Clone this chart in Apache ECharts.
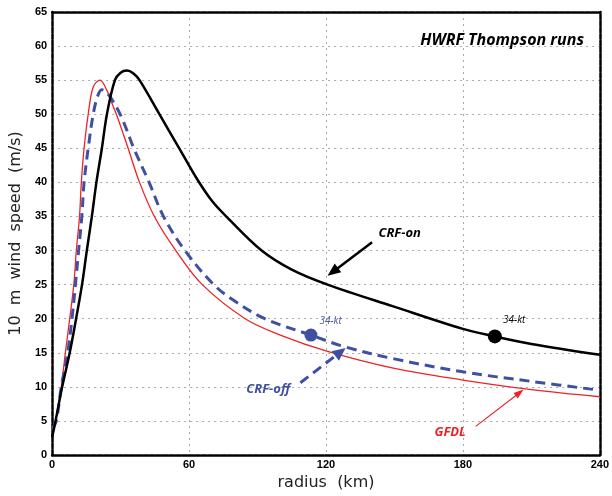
<!DOCTYPE html>
<html>
<head>
<meta charset="utf-8">
<script src="https://cdn.jsdelivr.net/npm/echarts@6/dist/echarts.min.js"></script>
<style>html,body{margin:0;padding:0;background:#fff}#c{width:612px;height:496px}</style>
</head>
<body>
<div id="c"></div>
<script>
// ---- data ----
const xTicks = [0, 60, 120, 180, 240];
const crfOnR = [0,1.5,4.4,7.7,10.5,13.1,15.2,17.4,19.4,21.8,24,27.5,30,32.8,35.5,38.3,47,55.7,63.5,70,76.6,91.8,105,120.7,149.5,180,194,210,240];
const crfOnV = [2.6,5,10,15,20,25,30,35,40,45,50,55,56.1,56.4,56,55,50,45,40.5,37.3,34.9,30,27.2,25,21.8,18.5,17.4,16.3,14.7];
const crfOffR = [0,1.8,4,6.8,8.7,10.2,11.6,13,14,15.8,18,19.8,21.7,23.5,26.5,30.5,35.8,42.5,48.8,58.2,70.8,80,93.2,113.4,128,150,180,210,240];
const crfOffV = [3.9,5,10,15,20,25,30,35,40,45,50,52.5,53.6,53.3,52,49.5,45,40,35,30,25,22.6,20,17.6,15.9,14.1,12.2,10.8,9.5];
const gfdlR = [0,1.5,4,5.8,7.7,9.5,10.6,12,12.8,14,15.8,18,21,24,26,28.6,33.3,38.3,44.8,54.2,65.8,84.6,100,120.7,150,180,210,240];
const gfdlV = [3.7,5,10,15,20,25,30,35,40,45,50,54,55,53.5,51.8,49.6,45,40,35,30,25,20,17.6,15.2,12.7,11.0,9.6,8.55];
const kt34On = [194, 17.4];
const kt34Off = [113.4, 17.6];
// annotation anchors (data coords): [fromR, fromV, toR, toV]
const onArrow = [140.2, 31.2, 120.7, 26.3];
const offArrow = [108.8, 10.6, 128.6, 15.7];
const gfdlArrow = [185.6, 4.2, 206.6, 9.6];
const onLabelPos = [152.3, 32.6];
const offLabelPos = [94.7, 9.7];
const gfdlLabelPos = [174.4, 3.4];
const ktOnLabelPos = [202.5, 19.8];
const ktOffLabelPos = [122, 19.6];

const zip = (a, b) => a.map((v, i) => [v, b[i]]);
const BLUE = '#3f4fa2';
const RED = '#ec2329';
const arrowStyles = [
  {color: '#000', width: 2.5, dash: null, len: 13, half: 5.5},
  {color: BLUE, width: 3, dash: [10, 6], len: 13, half: 6},
  {color: RED, width: 1.2, dash: null, len: 10, half: 3.5}
];

function txt(coord, text, color, size, weight) {
  return {
    coord: coord, symbol: 'circle', symbolSize: 1, itemStyle: {color: 'transparent'},
    label: {show: true, position: 'inside', formatter: text, color: color, fontSize: size,
      fontStyle: 'italic', fontWeight: weight, fontFamily: 'Open Sans'}
  };
}

const chart = echarts.init(document.getElementById('c'));
const axisLineStyle = {color: '#000', width: 2.5, type: [5, 1.5]};
chart.setOption({
  animation: false,
  title: {
    text: 'HWRF Thompson runs', right: 23, top: 27,
    textStyle: {fontFamily: 'Open Sans', fontStyle: 'italic', fontWeight: 'bold', fontSize: 16, color: '#000'}
  },
  grid: {left: 51, right: 6, top: 12, bottom: 41},
  xAxis: [{
    type: 'value', min: 0, max: 240, interval: 60,
    name: 'radius  (km)', nameLocation: 'middle', nameGap: 20,
    nameTextStyle: {fontFamily: 'DejaVu Sans', fontSize: 16, color: '#222'},
    axisLine: {show: true, onZero: false, lineStyle: axisLineStyle},
    axisTick: {show: false},
    axisLabel: {fontFamily: 'Liberation Sans', fontWeight: 'bold', fontSize: 11, color: '#000', margin: 4,
      formatter: v => xTicks.includes(v) ? String(v) : ''},
    splitLine: {show: true, lineStyle: {color: '#aaa', width: 1, type: [2, 4]}}
  }, {
    type: 'value', position: 'top', min: 0, max: 240,
    axisLine: {show: true, onZero: false, lineStyle: axisLineStyle},
    axisTick: {show: false}, axisLabel: {show: false}, splitLine: {show: false}
  }],
  yAxis: [{
    type: 'value', min: 0, max: 65, interval: 5,
    name: '10  m  wind  speed  (m/s)', nameLocation: 'middle', nameGap: 28,
    nameTextStyle: {fontFamily: 'DejaVu Sans', fontSize: 16, color: '#222'},
    axisLine: {show: true, onZero: false, lineStyle: axisLineStyle},
    axisTick: {show: false},
    axisLabel: {fontFamily: 'Liberation Sans', fontWeight: 'bold', fontSize: 11, color: '#000', margin: 5},
    splitLine: {show: true, lineStyle: {color: '#aaa', width: 1, type: [2, 4]}}
  }, {
    type: 'value', position: 'right', min: 0, max: 65,
    axisLine: {show: true, onZero: false, lineStyle: axisLineStyle},
    axisTick: {show: false}, axisLabel: {show: false}, splitLine: {show: false}
  }],
  series: [
    {
      name: 'GFDL', type: 'line', data: zip(gfdlR, gfdlV), smooth: 0.35, showSymbol: false,
      lineStyle: {color: RED, width: 1.3}, z: 2,
      markPoint: {silent: true, data: [txt(gfdlLabelPos, 'GFDL', RED, 13, 'bold')]}
    },
    {
      name: 'CRF-off', type: 'line', data: zip(crfOffR, crfOffV), smooth: 0.35, showSymbol: false,
      lineStyle: {color: BLUE, width: 3, type: [10, 6]}, z: 3,
      markPoint: {silent: true, data: [txt(offLabelPos, 'CRF-off', BLUE, 13, 'bold'),
        txt(ktOffLabelPos, '34-kt', '#4a5aa8', 10, 'normal')]}
    },
    {
      name: 'CRF-on', type: 'line', data: zip(crfOnR, crfOnV), smooth: 0.35, showSymbol: false,
      lineStyle: {color: '#000', width: 2.5}, z: 4,
      markPoint: {silent: true, data: [txt(onLabelPos, 'CRF-on', '#000', 13, 'bold'),
        txt(ktOnLabelPos, '34-kt', '#000', 10, 'normal')]}
    },
    {
      name: 'kt34-off', type: 'scatter', data: [kt34Off], symbolSize: 13,
      itemStyle: {color: BLUE, opacity: 1}, z: 5
    },
    {
      name: 'kt34-on', type: 'scatter', data: [kt34On], symbolSize: 14,
      itemStyle: {color: '#000', opacity: 1}, z: 5
    },
    {
      name: 'arrows', type: 'custom', silent: true, z: 6,
      encode: {x: [0, 2], y: [1, 3]},
      data: [onArrow, offArrow, gfdlArrow],
      renderItem: function (params, api) {
        const s = arrowStyles[params.dataIndex];
        const p0 = api.coord([api.value(0), api.value(1)]);
        const p1 = api.coord([api.value(2), api.value(3)]);
        const dx = p1[0] - p0[0], dy = p1[1] - p0[1];
        const d = Math.sqrt(dx * dx + dy * dy);
        const ux = dx / d, uy = dy / d, nx = -uy, ny = ux;
        const bx = p1[0] - ux * s.len, by = p1[1] - uy * s.len;
        const ls = {stroke: s.color, lineWidth: s.width, fill: null};
        if (s.dash) ls.lineDash = s.dash;
        return {
          type: 'group',
          children: [
            {type: 'line', shape: {x1: p0[0], y1: p0[1], x2: bx + ux * 2, y2: by + uy * 2}, style: ls},
            {type: 'polygon', shape: {points: [[p1[0], p1[1]], [bx + nx * s.half, by + ny * s.half], [bx - nx * s.half, by - ny * s.half]]},
              style: {fill: s.color, stroke: null}}
          ]
        };
      }
    }
  ]
});
</script>
</body>
</html>
